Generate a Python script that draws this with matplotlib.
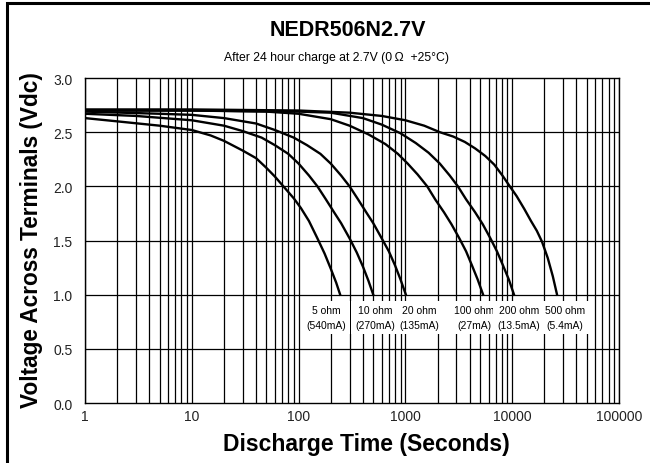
import matplotlib
matplotlib.use("Agg")
import matplotlib.pyplot as plt
from matplotlib.patches import Rectangle
from matplotlib.ticker import FixedLocator, NullFormatter

plt.rcParams['font.family'] = ['Liberation Sans', 'DejaVu Sans']

# discharge curves, time (s) vs voltage (V)
t_5 = [1, 2, 5, 10, 15, 20, 30, 40, 50, 60, 75, 90, 105, 125, 150, 175, 200, 225, 245]
v_5 = [2.63, 2.60, 2.56, 2.52, 2.47, 2.42, 2.33, 2.26, 2.17, 2.09, 1.98, 1.89,
       1.80, 1.68, 1.52, 1.38, 1.24, 1.11, 1.0]

t_10 = [1, 3, 10, 20, 30, 45, 60, 80, 100, 125, 150, 180, 215, 250, 300, 350,
        400, 450, 500]
v_10 = [2.67, 2.65, 2.61, 2.56, 2.51, 2.45, 2.38, 2.30, 2.21, 2.10, 2.0, 1.88,
        1.76, 1.66, 1.52, 1.39, 1.26, 1.13, 1.0]

t_20 = [1, 5, 10, 20, 40, 60, 90, 120, 160, 200, 250, 300, 360, 430, 500, 600,
        700, 800, 900, 1010]
v_20 = [2.69, 2.67, 2.66, 2.63, 2.58, 2.52, 2.45, 2.38, 2.30, 2.21, 2.10, 2.0,
        1.88, 1.76, 1.66, 1.52, 1.40, 1.27, 1.14, 1.0]

t_100 = [1, 10, 50, 100, 200, 300, 450, 650, 850, 1050, 1300, 1600, 1900, 2300,
         2700, 3200, 3700, 4200, 4750, 5340]
v_100 = [2.70, 2.70, 2.69, 2.67, 2.62, 2.56, 2.48, 2.39, 2.30, 2.21, 2.11, 2.0,
         1.88, 1.76, 1.65, 1.52, 1.40, 1.27, 1.14, 1.0]

t_200 = [1, 10, 100, 200, 400, 600, 900, 1250, 1650, 2100, 2600, 3100, 3700,
         4500, 5300, 6250, 7200, 8200, 9300, 10400]
v_200 = [2.70, 2.70, 2.69, 2.68, 2.63, 2.57, 2.49, 2.40, 2.31, 2.21, 2.10, 2.0,
         1.88, 1.76, 1.65, 1.52, 1.40, 1.27, 1.14, 1.0]

t_500 = [1, 10, 100, 300, 600, 1000, 1500, 2100, 2800, 3600, 4500, 5600, 6800,
         8100, 9500, 11000, 13000, 15000, 17000, 19000, 21500, 24000, 26300]
v_500 = [2.71, 2.71, 2.70, 2.68, 2.65, 2.61, 2.56, 2.50, 2.46, 2.41, 2.35, 2.28,
         2.20, 2.10, 2.0, 1.91, 1.79, 1.68, 1.59, 1.49, 1.34, 1.17, 1.0]

curves = [(t_5, v_5), (t_10, v_10), (t_20, v_20),
          (t_100, v_100), (t_200, v_200), (t_500, v_500)]

labels = ["5 ohm\n(540mA)", "10 ohm\n(270mA)", "20 ohm\n(135mA)",
          "100 ohm\n(27mA)", "200 ohm\n(13.5mA)", "500 ohm\n(5.4mA)"]
label_t = [181, 519, 1340, 4390, 11580, 31200]

fig = plt.figure(figsize=(6.5, 4.64), dpi=100)
ax = fig.add_axes([0.1308, 0.1293, 0.8215, 0.7004])

ax.set_xscale('log')
ax.set_xlim(1, 100000)
ax.set_ylim(0, 3.0)

# grid: every minor decade line, every 0.5 V
vlines = [m * 10 ** d for d in range(5) for m in range(1, 10)] + [100000]
for x in vlines:
    ax.axvline(x, color='black', lw=0.9, zorder=1)
for y in [0.5, 1.0, 1.5, 2.0, 2.5]:
    ax.axhline(y, color='black', lw=0.9, zorder=1)

for t, v in curves:
    ax.plot(t, v, color='black', lw=1.7, zorder=3, solid_joinstyle='round')

for lab, x in zip(labels, label_t):
    ax.text(x, 0.79, lab, ha='center', va='center', fontsize=7.5, zorder=4,
            linespacing=1.6,
            bbox=dict(facecolor='white', edgecolor='none', pad=3))

ax.xaxis.set_major_locator(FixedLocator([1, 10, 100, 1000, 10000, 100000]))
ax.xaxis.set_minor_locator(FixedLocator([]))
ax.xaxis.set_minor_formatter(NullFormatter())
ax.set_xticklabels(['1', '10', '100', '1000', '10000', '100000'])
ax.set_yticks([0, 0.5, 1.0, 1.5, 2.0, 2.5, 3.0])
ax.set_yticklabels(['0.0', '0.5', '1.0', '1.5', '2.0', '2.5', '3.0'])
ax.tick_params(length=0, labelsize=10, colors='#222222')
ax.tick_params(axis='y', pad=9)
ax.tick_params(axis='x', pad=4)
for s in ax.spines.values():
    s.set_linewidth(1.0)

fig.text(0.535, 0.935, "NEDR506N2.7V", ha='center', va='center',
         fontsize=15.5, fontweight='bold')
fig.text(0.517, 0.875, "After 24 hour charge at 2.7V (0\u2009\u03a9  +25\u00b0C)",
         ha='center', va='center', fontsize=8.8)
fig.text(0.048, 0.483, "Voltage Across Terminals (Vdc)", rotation=90,
         ha='center', va='center', fontsize=16.3, fontweight='bold')
fig.text(0.564, 0.043, "Discharge Time (Seconds)", ha='center', va='center',
         fontsize=16.5, fontweight='bold')

# outer frame, cut off at right and bottom like the source image
fig.patches.append(Rectangle((7 / 650, -0.1), 1.2, (464 - 4) / 464 + 0.1,
                             transform=fig.transFigure, fill=False,
                             edgecolor='black', lw=2.2))

fig.savefig("out.png", dpi=100)
